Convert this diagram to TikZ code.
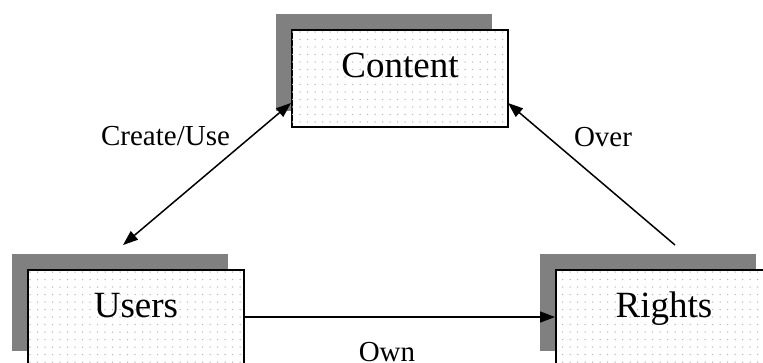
\documentclass[tikz,border=0pt]{standalone}
\usepackage{fontspec}
\setmainfont{Liberation Serif}
\usetikzlibrary{arrows.meta,shadows,patterns.meta}
\begin{document}
\begin{tikzpicture}[x=1pt,y=-1pt,
  entity/.style={draw=black, line width=2pt, fill=white,
    minimum width=216pt, minimum height=97pt, inner sep=0pt,
    text height=47pt, text depth=50pt, anchor=north west,
    font=\fontsize{37}{40}\selectfont,
    drop shadow={shadow xshift=-16pt, shadow yshift=16pt, opacity=1, fill=black!50, draw=none},
    postaction={pattern={Dots[radius=0.75pt,distance=7.5pt]}, pattern color=black!28}},
  rel/.style={line width=1.5pt, -{Triangle[length=15pt,width=11pt]}},
  biarrow/.style={line width=1.5pt, {Triangle[length=15pt,width=11pt]}-{Triangle[length=15pt,width=11pt]}},
  lbl/.style={anchor=base, inner sep=0pt, font=\fontsize{29}{32}\selectfont}]
\useasboundingbox (0,0) rectangle (763,362);
\clip (0,0) rectangle (763,362);
\node[entity] (content) at (291,29) {Content};
\node[entity] (users) at (27,269) {Users};
\node[entity] (rights) at (555,269) {Rights};
\coordinate (cuA) at (123,245);
\coordinate (cuB) at (291,103);
\coordinate (ovA) at (675,245);
\coordinate (ovB) at (508,103);
\coordinate (owA) at (243,317);
\coordinate (owB) at (555,317);
\draw[biarrow] (cuA) -- (cuB);
\draw[rel] (ovA) -- (ovB);
\draw[rel] (owA) -- (owB);
\node[lbl] (lcu) at (165.5,145) {Create/Use};
\node[lbl] (lov) at (603,146) {Over};
\node[lbl] (low) at (387,361) {Own};
\end{tikzpicture}
\end{document}
